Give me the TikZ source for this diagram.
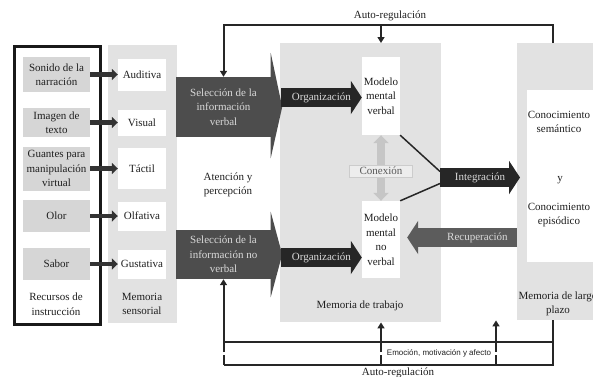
\documentclass[tikz,border=0pt]{standalone}
\usepackage{fontspec}
\setmainfont{Liberation Serif}
\newfontfamily\emofont{Liberation Sans}
\usetikzlibrary{arrows.meta}
\definecolor{panel}{HTML}{E2E2E2}
\definecolor{fuentegris}{HTML}{D6D6D6}
\definecolor{selgris}{HTML}{4D4D4D}
\definecolor{oscuro}{HTML}{262626}
\definecolor{recgris}{HTML}{5C5C5C}
\definecolor{conexgris}{HTML}{C6C6C6}
\definecolor{textoclaro}{HTML}{D9D9D9}
\def\srcx{56.5}
\def\senx{142}
\def\cuerpo{19pt}
\tikzset{
    every node/.style={font=\fontsize{11}{14.5}\selectfont, text=black!88, align=center},
    panelbox/.style={fill=panel, inner sep=0pt, anchor=north west},
    fuente/.style={fill=fuentegris, minimum width=67pt, inner sep=1pt},
    sentido/.style={fill=white, minimum width=48pt, inner sep=1pt},
    canal/.style={draw=black!80, line width=4.5pt, -{Triangle[width=11pt,length=6pt]}},
    modelo/.style={fill=white, minimum width=38pt, inner sep=1pt},
    seleccion/.style={fill=selgris, text=textoclaro, minimum width=95pt, inner sep=1pt},
    flechagrande/.style={draw=#1, line width=\cuerpo, -{Triangle[width=33pt,length=11pt]}},
    flechatexto/.style={text=textoclaro},
    conexflecha/.style={draw=conexgris, line width=8pt,
        {Triangle[width=15pt,length=8pt]}-{Triangle[width=15pt,length=8pt]}},
    linea/.style={draw=black!85, line width=1.5pt},
    regula/.style={draw=black!85, line width=2pt},
    regulaflecha/.style={regula, -{Triangle[width=7pt,length=6pt]}},
    corte/.style={regula, dash pattern=on 10pt off 3pt},
}
\newcommand{\canales}[5]{
    \node[fuente, minimum height=#3pt] (f#1) at (\srcx,#2) {#4};
    \node[sentido, minimum height=#3pt-3pt] (s#1) at (\senx,#2) {#5};
    \draw[canal] (f#1) -- (s#1);
}

\begin{document}
\begin{tikzpicture}[x=1pt, y=-1pt]
    \useasboundingbox (0,0) rectangle (593,376);
    \node[panelbox, minimum width=69pt, minimum height=278pt] (sens) at (108,45) {};
    \node[panelbox, minimum width=161pt, minimum height=279pt] (wm) at (280,43) {};
    \node[panelbox, minimum width=90pt, minimum height=277pt] (ltm) at (517,43) {};
    \node[panelbox, fill=white, minimum width=80pt, minimum height=172pt] (conoc) at (527,90) {};
    \node[draw=black!90, line width=2.5pt, inner sep=0pt, anchor=north west,
        minimum width=86pt, minimum height=278pt] (recursos) at (13,45) {};

    \canales{son}{74.5}{35}{Sonido de la\\narración}{Auditiva}
    \canales{ima}{122.5}{29}{Imagen de\\texto}{Visual}
    \canales{gua}{168.5}{44}{Guantes para\\manipulación\\virtual}{Táctil}
    \canales{olo}{216}{32}{Olor}{Olfativa}
    \canales{sab}{264}{32}{Sabor}{Gustativa}

    \node (lblrec) at (56,304) {Recursos de\\instrucción};
    \node (lblsen) at (142,304) {Memoria\\sensorial};
    \node (lblat) at (228,185) {Atención y\\percepción};
    \node (lblwm) at (360,306) {Memoria de trabajo};
    \node (lblltm) at (558,304) {Memoria de largo\\plazo};
    \node (sem) at (559,122) {Conocimiento\\semántico};
    \node (ytxt) at (560,180) {y};
    \node (epi) at (559,215) {Conocimiento\\episódico};

    \node[seleccion, minimum height=60pt] (selv) at (223.5,107) {Selección de la\\información\\verbal};
    \fill[selgris] ([xshift=-0.5pt,yshift=24pt]selv.north east) -- ([xshift=11pt]selv.east)
        -- ([xshift=-0.5pt,yshift=-21pt]selv.south east) -- cycle;
    \node[seleccion, minimum height=49pt] (selnv) at (223.5,254.5) {Selección de la\\información no\\verbal};
    \fill[selgris] ([xshift=-0.5pt,yshift=18pt]selnv.north east) -- ([xshift=11pt]selnv.east)
        -- ([xshift=-0.5pt,yshift=-18pt]selnv.south east) -- cycle;

    \node[modelo, minimum height=78pt] (mmv) at (381,96) {Modelo\\mental\\verbal};
    \node[modelo, minimum height=77pt] (mmnv) at (381,239.5) {Modelo\\mental\\no\\verbal};

    \coordinate (orgv) at (281,97.5);
    \coordinate (orgnv) at (281,257.5);
    \draw[flechagrande=oscuro] (orgv) -- (orgv -| mmv.west)
        node[midway, flechatexto] {Organización};
    \draw[flechagrande=oscuro] (orgnv) -- (orgnv -| mmnv.west)
        node[midway, flechatexto] {Organización};

    \draw[conexflecha] (mmv.south) -- (mmnv.north);
    \node[fill=black!7, draw=black!20, inner sep=0pt, minimum width=63pt, minimum height=12pt,
        text=black!65] (conex) at (381,171) {Conexión};

    \coordinate (integ) at (440,177.5);
    \draw[linea] (mmv.south east) -- ([yshift=6pt]integ);
    \draw[linea] (mmnv.north east) -- ([yshift=-6pt]integ);
    \draw[flechagrande=oscuro] (integ) -- ([xshift=3pt]integ -| ltm.west)
        node[midway, flechatexto] {Integración};

    \coordinate (recup) at (517,237.5);
    \draw[flechagrande=recgris] (recup) -- ([xshift=7pt]recup -| mmnv.east)
        node[pos=0.36, flechatexto] {Recuperación};

    \coordinate (regtop) at (553,25);
    \draw[regulaflecha] (regtop |- ltm.north) -- (regtop) -- (regtop -| selv.north) -- (selv.north);
    \draw[regulaflecha] (regtop -| mmv) -- (mmv |- wm.north);
    \node (autoreg1) at (390,16) {Auto-regulación};

    \coordinate (regbot) at (553,365);
    \coordinate (emo) at (553,342);
    \coordinate (libre) at (496,342);
    \draw[regula] (regbot |- ltm.south) -- (regbot) -- (regbot -| selnv.south);
    \draw[corte] (regbot -| selnv.south) -- (emo -| selnv.south);
    \draw[regulaflecha] (emo -| selnv.south) -- (selnv.south);
    \draw[regula] (emo -| selnv.south) -- (emo);
    \draw[regulaflecha] (emo -| mmv) -- (mmv |- wm.south);
    \draw[regulaflecha] (libre) -- (libre |- ltm.south);
    \draw[corte] (regbot -| mmv) -- (emo -| mmv);
    \draw[corte] (regbot -| libre) -- (libre);
    \node[font=\emofont\fontsize{8}{10}\selectfont] (emotxt) at (439,353) {Emoción, motivación y afecto};
    \node (autoreg2) at (398,373) {Auto-regulación};
\end{tikzpicture}
\end{document}
